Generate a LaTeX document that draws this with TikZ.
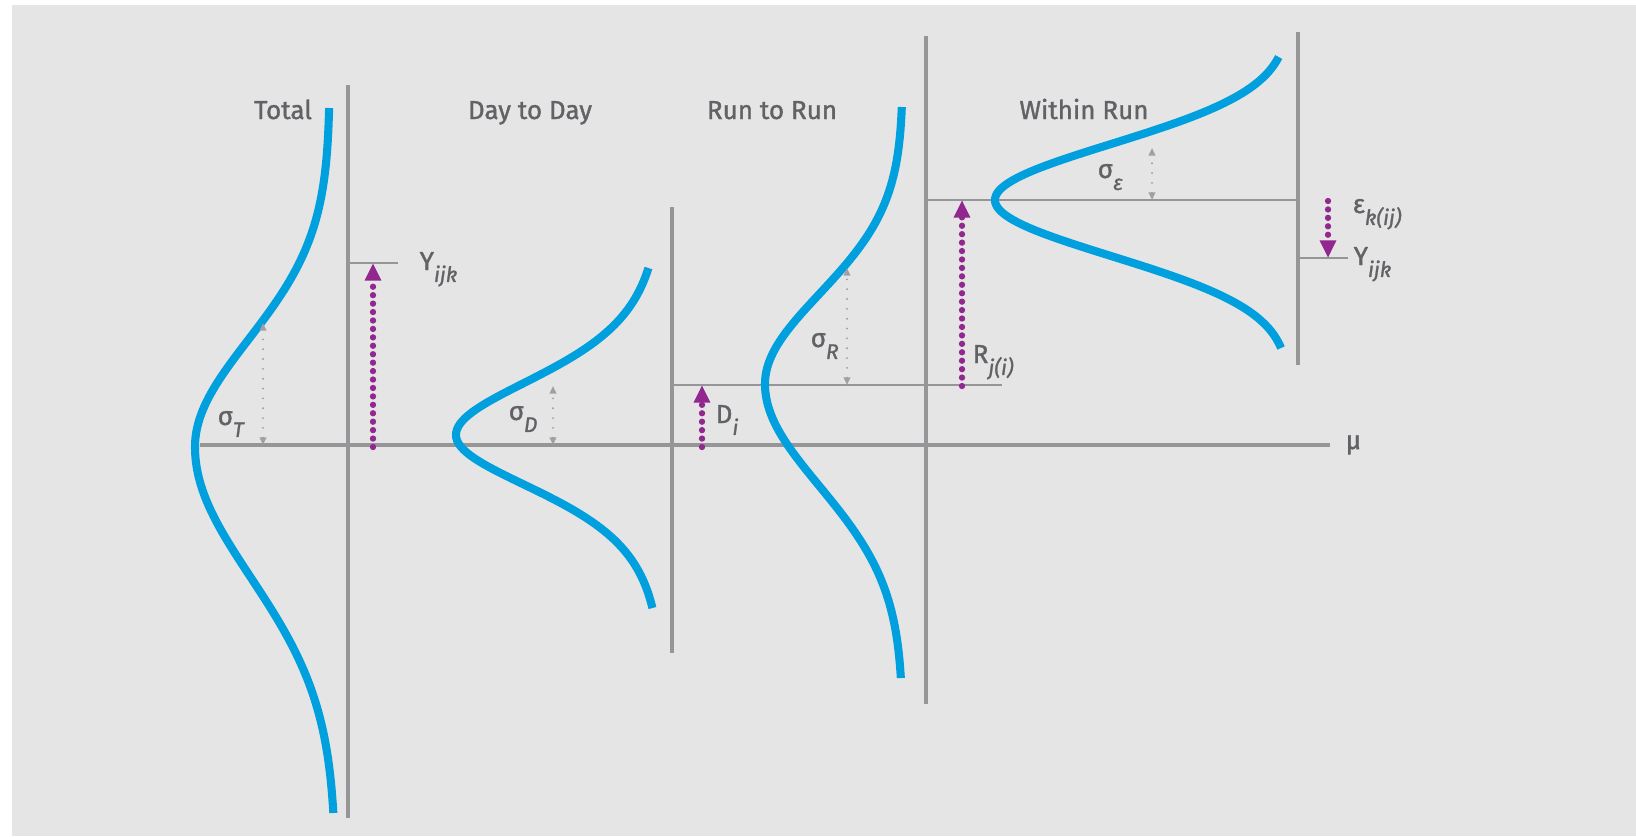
\documentclass[tikz,border=0pt]{standalone}
\usepackage{fontspec}
\setmainfont{Fira Sans}[FakeBold=1.3]
\usepackage{xcolor}
\usetikzlibrary{arrows.meta,positioning,calc}

\definecolor{bggray}{RGB}{229,229,229}
\definecolor{bellblue}{RGB}{0,160,222}
\definecolor{axisgray}{RGB}{150,150,153}
\definecolor{spreadgray}{RGB}{160,160,162}
\definecolor{effectpurple}{RGB}{146,40,143}
\definecolor{labelgray}{RGB}{98,98,102}

\newcommand{\lsub}[1]{\raisebox{-3.4pt}{\fontsize{6}{6}\selectfont\itshape #1}}

\begin{document}
\begin{tikzpicture}[x=0.1mm, y=-0.1mm, font=\fontsize{7.4}{9}\selectfont,
  curve/.style={draw=bellblue, line width=2.3pt, line join=round},
  axis/.style={draw=axisgray, line width=0.95pt},
  level/.style={draw=axisgray, line width=0.62pt},
  spread/.style={draw=spreadgray, line width=0.6pt, line cap=round, dash pattern=on 0pt off 2.8pt,
    {Triangle[length=2.2pt,width=1.9pt]}-{Triangle[length=2.2pt,width=1.9pt]}},
  effect/.style={draw=effectpurple, line width=1.8pt, line cap=round, dash pattern=on 0pt off 2.4pt,
    -{Triangle[length=5pt,width=4.4pt]}},
  lbl/.style={text=labelgray, inner sep=0pt}]
  \useasboundingbox (0,0) rectangle (1636,836);
  \fill[white] (0,0) rectangle (1636,836);
  \fill[bggray] (12,5) rectangle (1636,836);

  % Common mean line.
  \draw[axis, line width=1.15pt] (200,445) -- (1330,445);
  \node[lbl, anchor=base west] (mu) at (1345,449) {μ};

  % Total.
  \node[lbl, anchor=base] (total) at (283,119) {Total};
  \draw[axis] (348,85) -- (348,818);
  \draw[level] (348,263) -- (398,263);
  \draw[curve] plot[domain=339:0, samples=70] ({330-135*exp(-((\x/107)^2)/2)}, {447-\x})
    -- plot[domain=0:366, samples=70] ({336-141*exp(-((\x/130)^2)/2)}, {447+\x});
  \coordinate (sT0) at (263,445);
  \coordinate (sT1) at (263,323);
  \draw[spread] (sT0) -- (sT1);
  \node[lbl, anchor=base west] (sigT) at (217,425) {σ\lsub{T}};
  \coordinate (y0) at (373,447);
  \coordinate (y1) at (373,263);
  \draw[effect] (y0) -- (y1);
  \node[lbl, anchor=base west] (yL) at (419,270) {Y\lsub{ijk}};

  % Day to Day.
  \node[lbl, anchor=base] (day) at (530,119) {Day to Day};
  \draw[axis] (672,207) -- (672,653);
  \draw[level] (672,385) -- (1002,385);
  \draw[curve] plot[domain=167:0, samples=60] ({665-209*(1+((\x/63)^2)/4)^(-2.5)}, {435-\x})
    -- plot[domain=0:173, samples=60] ({665-209*(1+((\x/60)^2)/4)^(-2.5)}, {435+\x});
  \coordinate (sD0) at (553,445);
  \coordinate (sD1) at (553,386);
  \draw[spread] (sD0) -- (sD1);
  \node[lbl, anchor=base west] (sigD) at (508,420) {σ\lsub{D}};
  \coordinate (d0) at (702,447);
  \coordinate (d1) at (702,385);
  \draw[effect] (d0) -- (d1);
  \node[lbl, anchor=base west] (dI) at (715,423) {D\lsub{i}};

  % Run to Run.
  \node[lbl, anchor=base] (run) at (772,119) {Run to Run};
  \draw[axis] (926,36) -- (926,704);
  \draw[level] (926,200) -- (1298,200);
  \draw[curve] plot[domain=277:0, samples=70] ({903-138*exp(-((\x/90)^2)/2)}, {384-\x})
    -- plot[domain=0:294, samples=70] ({903-138*exp(-((\x/102)^2)/2)}, {384+\x});
  \coordinate (sR0) at (847,385);
  \coordinate (sR1) at (847,268);
  \draw[spread] (sR0) -- (sR1);
  \node[lbl, anchor=base west] (sigR) at (810,347) {σ\lsub{R}};
  \coordinate (r0) at (962,386);
  \coordinate (r1) at (962,200);
  \draw[effect] (r0) -- (r1);
  \node[lbl, anchor=base west] (rJ) at (972,363) {R\lsub{j(i)}};

  % Within Run.
  \node[lbl, anchor=base] (within) at (1084,119) {Within Run};
  \draw[axis] (1298,32) -- (1298,365);
  \draw[level] (1298,258) -- (1348,258);
  \draw[curve] plot[domain=143:0, samples=60] ({1290-295*exp(-((\x/56)^2)/2)}, {200-\x})
    -- plot[domain=0:148, samples=60] ({1290-295*exp(-((\x/56)^2)/2)}, {200+\x});
  \coordinate (sE0) at (1152,200);
  \coordinate (sE1) at (1152,148);
  \draw[spread] (sE0) -- (sE1);
  \node[lbl, anchor=base west] (sigE) at (1097,178) {σ\lsub{ε}};
  \coordinate (e0) at (1328,201);
  \coordinate (e1) at (1328,258);
  \draw[effect] (e0) -- (e1);
  \node[lbl, anchor=base west] (eK) at (1352,213) {ε\lsub{k(ij)}};
  \node[lbl, anchor=base west] (yR) at (1353,265) {Y\lsub{ijk}};
\end{tikzpicture}
\end{document}
